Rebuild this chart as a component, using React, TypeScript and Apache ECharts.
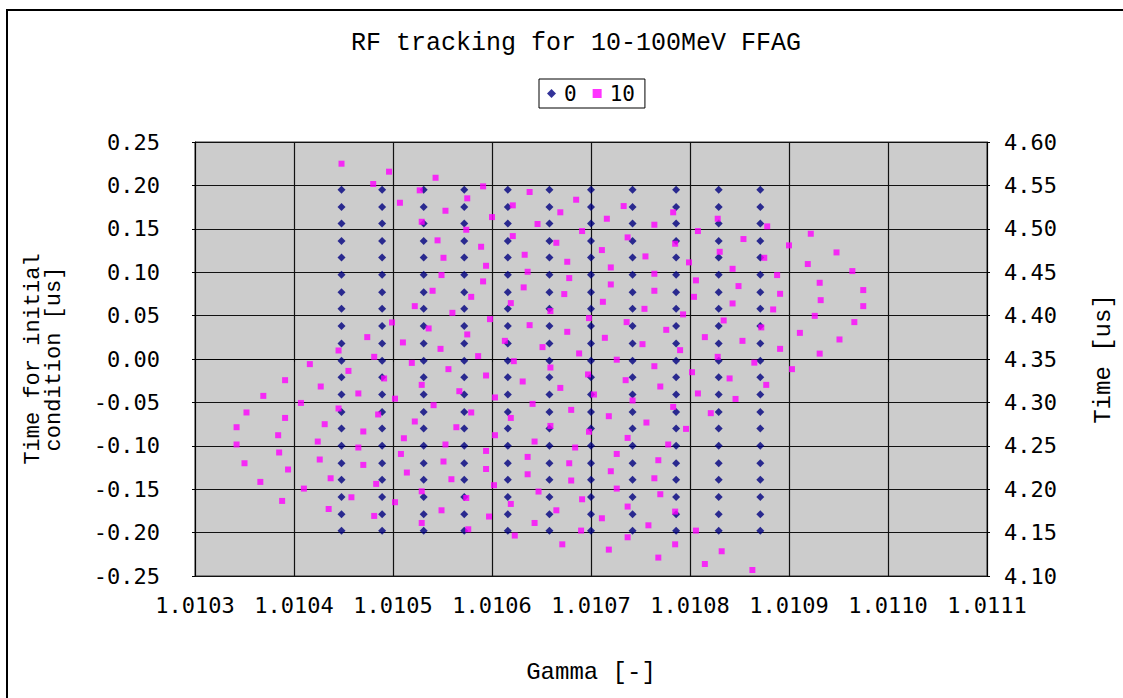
import React, { useEffect, useRef } from "react";
import * as echarts from "echarts";

// Series "0": initial conditions on a grid of gamma columns x time rows
const gamma0: number[] = [
  1.010448, 1.010489, 1.010531, 1.010572, 1.010616, 1.010658, 1.0107, 1.010742, 1.010786, 1.010829, 1.010871,
];
const time0: number[] = [
  0.195, 0.175, 0.156, 0.136, 0.117, 0.097, 0.077, 0.058, 0.038, 0.018, -0.002, -0.021, -0.041, -0.061, -0.08,
  -0.1, -0.12, -0.139, -0.159, -0.179, -0.198,
];

// Series "10": positions after tracking
const gamma10: number[] = [
  1.010448, 1.010496, 1.01048, 1.010499, 1.010474, 1.010445, 1.010481, 1.010416,
  1.010543, 1.010527, 1.010591, 1.010507, 1.010575, 1.010553, 1.010529, 1.0106, 1.010574, 1.010545, 1.010589,
  1.010551, 1.010594, 1.010549, 1.010591, 1.01054, 1.010579, 1.010522, 1.01056, 1.010598, 1.010536, 1.010575,
  1.01051, 1.010548, 1.010586, 1.010519,
  1.010638, 1.010621, 1.010685, 1.010669, 1.010646, 1.010691, 1.010621, 1.010665, 1.010633, 1.010676, 1.010636,
  1.010678, 1.010632, 1.010673, 1.010619, 1.010659, 1.010698, 1.010638, 1.010676, 1.010613, 1.010651, 1.010688,
  1.010622,
  1.010733, 1.010783, 1.010716, 1.010764, 1.010828, 1.010878, 1.010808, 1.010737, 1.010785, 1.010854, 1.010711,
  1.01083, 1.0109, 1.010755, 1.010875, 1.010799, 1.01072, 1.010843, 1.010764, 1.010888, 1.010806, 1.01072,
  1.010849, 1.010764, 1.010891, 1.010804, 1.010712, 1.010843, 1.010754, 1.010884, 1.010793, 1.010736, 1.010834,
  1.010872, 1.010776, 1.010714, 1.010815, 1.010752, 1.010853, 1.01079, 1.010891, 1.010726, 1.010828, 1.010865,
  1.010922, 1.010948, 1.010919, 1.010964, 1.010931, 1.010975, 1.010932, 1.010975, 1.010926, 1.010966, 1.010911,
  1.010951, 1.010931,
  1.010455, 1.010391, 1.010491, 1.010427, 1.010369, 1.010465, 1.010502, 1.010407, 1.010352, 1.010445, 1.010391,
  1.010485, 1.010431, 1.010342, 1.010384, 1.01047, 1.010424, 1.010342, 1.010465, 1.010385, 1.010426, 1.01047,
  1.01035, 1.010394, 1.010437, 1.010483, 1.010366, 1.01041, 1.010458, 1.010502, 1.010388, 1.010435, 1.010481,
  1.010556, 1.010594, 1.010529, 1.010567, 1.010541, 1.010603, 1.010579, 1.010522, 1.010564, 1.010511, 1.010553,
  1.010603, 1.010508, 1.010594, 1.010551, 1.010594, 1.010514, 1.010559, 1.010602, 1.010529, 1.010574, 1.010549,
  1.010597, 1.010529, 1.010576,
  1.010659, 1.010697, 1.010631, 1.010669, 1.010703, 1.010641, 1.010619, 1.01068, 1.010659, 1.010698, 1.010643,
  1.010684, 1.010636, 1.010678, 1.010636, 1.01068, 1.010647, 1.010691, 1.010619, 1.010665, 1.010643, 1.01069,
  1.010623, 1.010671,
  1.010764, 1.010802, 1.010903, 1.010735, 1.01084, 1.010877, 1.01077, 1.010808, 1.010742, 1.010846, 1.010783,
  1.010821, 1.010718, 1.010756, 1.010796, 1.010737, 1.010778, 1.010726, 1.010768, 1.01072, 1.010764, 1.010726,
  1.01077, 1.010737, 1.010785, 1.010711, 1.010758, 1.010806, 1.010737, 1.010718, 1.010785, 1.010832, 1.010768,
  1.010815, 1.010863,
];
const time10: number[] = [
  0.225, 0.2158, 0.2016, 0.0421, 0.0252, 0.0098, 0.0025, -0.0059,
  0.2088, 0.1943, 0.1989, 0.18, 0.1851, 0.1708, 0.1581, 0.1635, 0.1489, 0.1367, 0.1293, 0.1166, 0.1074, 0.0967,
  0.0894, 0.0786, 0.0716, 0.0609, 0.0532, 0.0459, 0.0352, 0.0283, 0.0191, 0.0117, 0.0033, -0.0045,
  0.1924, 0.177, 0.1835, 0.169, 0.1555, 0.1474, 0.1416, 0.1339, 0.1201, 0.112, 0.1005, 0.0932, 0.0825, 0.0748,
  0.0644, 0.0552, 0.0471, 0.039, 0.0313, 0.0209, 0.0137, 0.0064, -0.0025,
  0.1762, 0.169, 0.1616, 0.1547, 0.1616, 0.1528, 0.1474, 0.1401, 0.1328, 0.1382, 0.1255, 0.1235, 0.1309, 0.1182,
  0.1166, 0.1113, 0.1055, 0.1039, 0.0982, 0.0967, 0.0906, 0.0859, 0.084, 0.0786, 0.0751, 0.0716, 0.0659, 0.064,
  0.0578, 0.0571, 0.0514, 0.0425, 0.0444, 0.0364, 0.0336, 0.0244, 0.0252, 0.0171, 0.0209, 0.0102, 0.0117,
  -0.0008, 0.0025, -0.0042,
  0.1443, 0.1228, 0.1094, 0.1013, 0.0878, 0.0794, 0.0678, 0.0609, 0.0497, 0.0425, 0.0301, 0.0225, 0.0062,
  -0.0137, -0.0244, -0.0224, -0.0317, -0.0425, -0.0397, -0.0457, -0.0506, -0.0616, -0.057, -0.0679, -0.0639,
  -0.0751, -0.0786, -0.0878, -0.0835, -0.0951, -0.0985, -0.102, -0.1077, -0.1158, -0.122, -0.1201, -0.1273,
  -0.1374, -0.1439, -0.1416, -0.1493, -0.1593, -0.165, -0.1635, -0.1728, -0.1808,
  -0.0117, -0.019, -0.0298, -0.0371, -0.0532, -0.0443, -0.0616, -0.072, -0.0786, -0.0913, -0.0985, -0.0878,
  -0.1094, -0.1059, -0.1181, -0.1267, -0.1308, -0.1385, -0.1454, -0.1524, -0.1601, -0.1743, -0.1815, -0.1889,
  -0.1962,
  -0.0098, -0.0178, -0.0259, -0.0333, -0.0409, -0.0517, -0.0679, -0.0586, -0.0771, -0.0838, -0.0951, -0.102,
  -0.1128, -0.1201, -0.1328, -0.14, -0.1527, -0.1616, -0.167, -0.1743, -0.1889, -0.1977, -0.2034, -0.2135,
  -0.0083, -0.0152, -0.0117, -0.0244, -0.0224, -0.0298, -0.0317, -0.0397, -0.0478, -0.046, -0.0552, -0.0624,
  -0.0659, -0.0732, -0.0805, -0.0909, -0.0985, -0.1094, -0.1166, -0.1293, -0.1374, -0.1493, -0.1558, -0.17,
  -0.1758, -0.1835, -0.1916, -0.1977, -0.2054, -0.2196, -0.2135, -0.2215, -0.2288, -0.2362, -0.2431,
];

const seriesNames = ["0", "10"];
const titleText = "RF tracking for 10-100MeV FFAG";
const xName = "Gamma [-]";
const yName = "Time for initial\ncondition [us]";
const y2Name = "Time [us]";

// axes drawn in scaled units to keep tick arithmetic exact:
// x unit = 1e-4 in gamma above 1, y unit = 0.01 us
const toX = (g: number) => Math.round((g - 1) * 1e8) / 1e4;
const toY = (t: number) => Math.round(t * 1e6) / 1e4;

const MONO = "'DejaVu Sans Mono', monospace";
const COURIER = "'Liberation Mono', 'Courier New', monospace";

export default function App() {
  const ref = useRef<HTMLDivElement>(null);
  useEffect(() => {
    if (!ref.current) return;
    const chart = echarts.init(ref.current, undefined, { renderer: "svg" });
    const data0: number[][] = [];
    gamma0.forEach((g) => time0.forEach((t) => data0.push([toX(g), toY(t)])));
    const n = Math.min(gamma10.length, time10.length);
    const data10: number[][] = [];
    for (let i = 0; i < n; i++) data10.push([toX(gamma10[i]), toY(time10[i])]);

    chart.setOption({
      animation: false,
      backgroundColor: "#ffffff",
      title: {
        text: titleText,
        left: 346,
        top: 26,
        textStyle: { fontFamily: COURIER, fontSize: 25, fontWeight: "normal", color: "#000" },
      },
      legend: {
        left: 539,
        top: 79,
        padding: [4, 10, 4, 8],
        itemGap: 16,
        itemWidth: 9,
        itemHeight: 9,
        borderColor: "#000",
        borderWidth: 1,
        backgroundColor: "#fff",
        textStyle: { fontFamily: MONO, fontSize: 21, color: "#000", padding: [0, 0, 0, 3] },
        data: [
          { name: seriesNames[0], icon: "diamond" },
          { name: seriesNames[1], icon: "rect" },
        ],
      },
      graphic: [
        {
          type: "rect",
          shape: { x: 7, y: 10, width: 1200, height: 800 },
          style: { fill: "none", stroke: "#000", lineWidth: 2 },
          silent: true,
        },
      ],
      grid: {
        left: 195,
        right: 135,
        top: 142,
        bottom: 122,
        show: true,
        backgroundColor: "#cccccc",
        borderColor: "#333",
        borderWidth: 1,
      },
      xAxis: {
        type: "value",
        min: 103,
        max: 111,
        interval: 1,
        name: xName,
        nameLocation: "middle",
        nameGap: 84,
        nameTextStyle: { fontFamily: COURIER, fontSize: 24, color: "#000" },
        axisLine: { show: true, lineStyle: { color: "#000" } },
        axisTick: { show: true, length: 3, lineStyle: { color: "#000" } },
        axisLabel: {
          margin: 18,
          fontFamily: MONO,
          fontSize: 22,
          color: "#000",
          formatter: (v: number) => (1 + v / 1e4).toFixed(4),
        },
        splitLine: { show: true, lineStyle: { color: "#111", width: 1.2 } },
      },
      yAxis: [
        {
          type: "value",
          min: -25,
          max: 25,
          interval: 5,
          name: yName,
          nameLocation: "middle",
          nameRotate: 90,
          nameGap: 130,
          nameTextStyle: { fontFamily: COURIER, fontSize: 22, lineHeight: 21, color: "#000" },
          axisLine: { show: true, lineStyle: { color: "#000" } },
          axisTick: { show: true, length: 3, lineStyle: { color: "#000" } },
          axisLabel: {
            margin: 35,
            fontFamily: MONO,
            fontSize: 22,
            color: "#000",
            formatter: (v: number) => (v / 100).toFixed(2),
          },
          splitLine: { show: true, lineStyle: { color: "#111", width: 1.2 } },
        },
        {
          type: "value",
          position: "right",
          min: 410,
          max: 460,
          interval: 5,
          name: y2Name,
          nameLocation: "middle",
          nameRotate: 90,
          nameGap: 104,
          nameTextStyle: { fontFamily: COURIER, fontSize: 24, color: "#000" },
          axisLine: { show: true, lineStyle: { color: "#000" } },
          axisTick: { show: true, length: 3, lineStyle: { color: "#000" } },
          axisLabel: {
            margin: 17,
            fontFamily: MONO,
            fontSize: 22,
            color: "#000",
            formatter: (v: number) => (v / 100).toFixed(2),
          },
          splitLine: { show: false },
        },
      ],
      series: [
        {
          name: seriesNames[0],
          type: "scatter",
          yAxisIndex: 0,
          symbol: "diamond",
          symbolSize: 8,
          itemStyle: { color: "#000080" },
          data: data0,
        },
        {
          name: seriesNames[1],
          type: "scatter",
          yAxisIndex: 0,
          symbol: "rect",
          symbolSize: 6,
          itemStyle: { color: "#ff00ff" },
          data: data10,
        },
      ],
    });
    return () => chart.dispose();
  }, []);
  return (
    <div
      ref={ref}
      style={{ position: "fixed", left: 0, top: 0, width: 1123, height: 698, background: "#fff" }}
    />
  );
}
